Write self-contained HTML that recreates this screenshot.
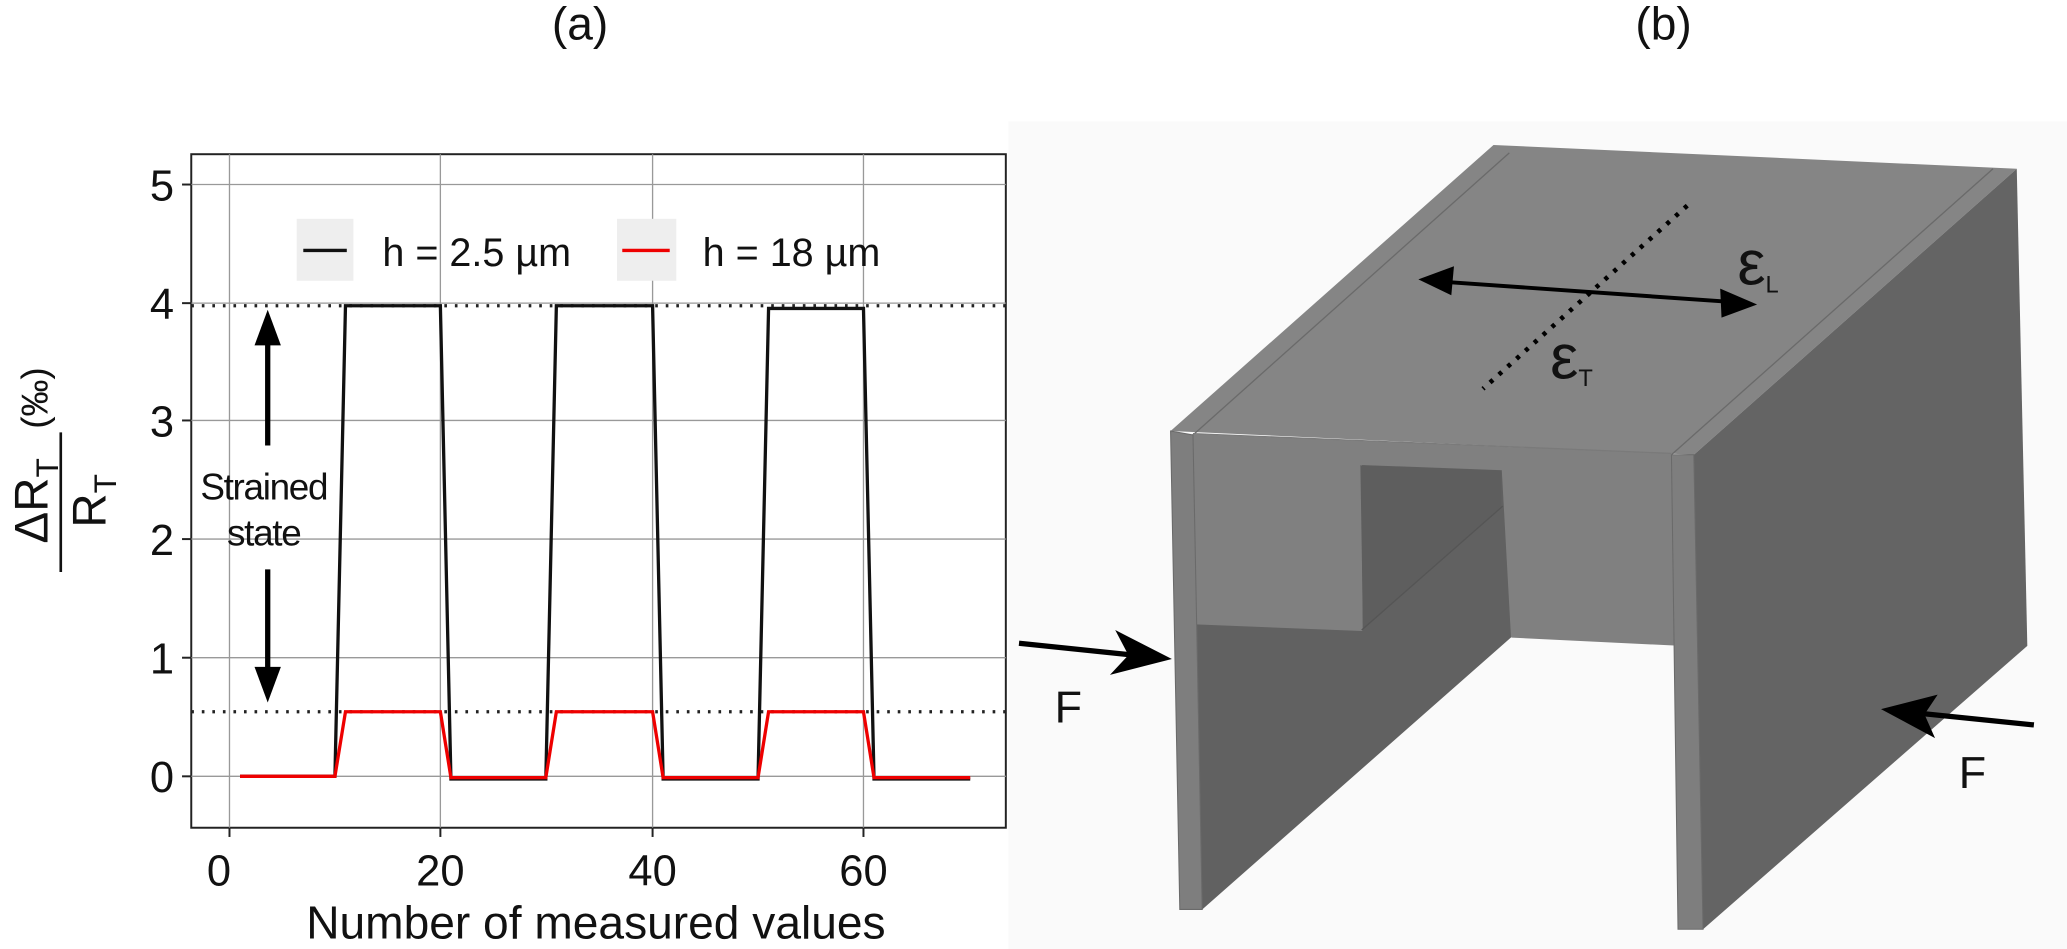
<!DOCTYPE html>
<html><head><meta charset="utf-8"><style>
html,body{margin:0;padding:0;background:#fff;}
svg{display:block;}
text{font-family:"Liberation Sans",sans-serif;fill:#111;}
</style></head><body>
<svg width="2067" height="949" viewBox="0 0 1568 720" xmlns="http://www.w3.org/2000/svg">
<text x="440" y="30" font-size="35" text-anchor="middle">(a)</text>
<text x="1262" y="30" font-size="35" text-anchor="middle">(b)</text>

<rect x="145" y="117" width="618" height="511" fill="#fff" stroke="#222" stroke-width="1.5"/>
<g stroke="#999" stroke-width="1">
<line x1="145" y1="589" x2="763" y2="589"/><line x1="145" y1="499" x2="763" y2="499"/>
<line x1="145" y1="409" x2="763" y2="409"/><line x1="145" y1="319" x2="763" y2="319"/>
<line x1="145" y1="230" x2="763" y2="230"/><line x1="145" y1="140" x2="763" y2="140"/>
<line x1="174" y1="117" x2="174" y2="628"/><line x1="334" y1="117" x2="334" y2="628"/>
<line x1="495" y1="117" x2="495" y2="628"/><line x1="655" y1="117" x2="655" y2="628"/>
</g>
<g stroke="#222" stroke-width="1.5">
<line x1="138" y1="589" x2="145" y2="589"/><line x1="138" y1="499" x2="145" y2="499"/><line x1="138" y1="409" x2="145" y2="409"/><line x1="138" y1="319" x2="145" y2="319"/><line x1="138" y1="230" x2="145" y2="230"/><line x1="138" y1="140" x2="145" y2="140"/>
<line x1="174" y1="628" x2="174" y2="635"/><line x1="334" y1="628" x2="334" y2="635"/><line x1="495" y1="628" x2="495" y2="635"/><line x1="655" y1="628" x2="655" y2="635"/>
</g>
<g font-size="33" text-anchor="end">
<text x="132" y="601">0</text><text x="132" y="511">1</text><text x="132" y="421">2</text><text x="132" y="331">3</text><text x="132" y="242">4</text><text x="132" y="152">5</text>
</g>
<g font-size="33" text-anchor="middle">
<text x="166" y="672">0</text><text x="334" y="672">20</text><text x="495" y="672">40</text><text x="655" y="672">60</text>
</g>
<text x="452" y="712" font-size="35" text-anchor="middle">Number of measured values</text>
<g stroke="#222" stroke-width="2.5" stroke-dasharray="2,6">
<line x1="145" y1="232" x2="763" y2="232"/><line x1="145" y1="540" x2="763" y2="540"/>
</g>
<polyline fill="none" stroke="#111" stroke-width="2.5" points="182,589 254,589 262,232 334,232 342,591 414,591 422,232 495,232 503,591 575,591 583,234 655,234 663,591 736,591"/>
<polyline fill="none" stroke="#e00" stroke-width="2.5" points="182,589 254,589 262,540 334,540 342,590 414,590 422,540 495,540 503,590 575,590 583,540 655,540 663,590 736,590"/>
<rect x="225" y="166" width="43" height="47" fill="#eee"/>
<line x1="230" y1="190" x2="263" y2="190" stroke="#111" stroke-width="2.5"/>
<text x="290" y="202" font-size="30">h = 2.5 µm</text>
<rect x="468" y="166" width="45" height="47" fill="#eee"/>
<line x1="472" y1="190" x2="508" y2="190" stroke="#e00" stroke-width="2.5"/>
<text x="533" y="202" font-size="30">h = 18 µm</text>
<line x1="203" y1="338" x2="203" y2="255" stroke="#000" stroke-width="4"/>
<polygon points="203,235 193,262 213,262" fill="#000"/>
<line x1="203" y1="432" x2="203" y2="512" stroke="#000" stroke-width="4"/>
<polygon points="203,533 193,506 213,506" fill="#000"/>
<text x="200" y="379" font-size="28" text-anchor="middle" letter-spacing="-1">Strained</text>
<text x="200" y="414" font-size="28" text-anchor="middle" letter-spacing="-1">state</text>
<g transform="translate(40,372) rotate(-90)">
<text x="-8" y="-4" font-size="36" text-anchor="middle">ΔR<tspan font-size="24" dy="8">T</tspan></text>
<line x1="-62" y1="6" x2="44" y2="6" stroke="#111" stroke-width="2"/>
<text x="-8" y="40" font-size="36" text-anchor="middle">R<tspan font-size="24" dy="8">T</tspan></text>
<text x="70" y="-4" font-size="28" text-anchor="middle">(‰)</text>
</g>

<rect x="765" y="92" width="803" height="628" fill="#fafafa"/>
<polygon points="907,473 1033,478 1033,352 1140,356 1147,483 912,690" fill="#616161"/>
<polygon points="888,327 1133,110 1530,128 1285,345" fill="#858585"/>
<line x1="905" y1="330" x2="1145" y2="116" stroke="#6a6a6a"/>
<line x1="1268" y1="345" x2="1512" y2="128" stroke="#6a6a6a"/>
<polygon points="1285,345 1530,128 1538,490 1292,705" fill="#646464"/>
<polygon points="905,330 1268,345 1270,489 1147,483 1140,356 1032,352 1033,478 907,473" fill="#808080" stroke="#808080" stroke-width="1.5" stroke-linejoin="round"/>
<line x1="905" y1="329" x2="1268" y2="344" stroke="#7a7a7a" stroke-width="1"/>
<polygon points="1032,353 1139,357 1139,384 1034,477" fill="#5e5e5e"/>
<line x1="1033" y1="478" x2="1140" y2="384" stroke="#555"/>
<polygon points="1268,345 1285,345 1292,705 1273,705" fill="#7e7e7e" stroke="#6a6a6a" stroke-width="0.8"/>
<polygon points="888,327 905,330 912,690 895,690" fill="#7e7e7e" stroke="#6a6a6a" stroke-width="0.8"/>
<line x1="773" y1="488" x2="860" y2="497" stroke="#000" stroke-width="4"/>
<polygon points="889,500 846,478 856,497 842,512" fill="#000"/>
<text x="800" y="548" font-size="34">F</text>
<line x1="1543" y1="550" x2="1455" y2="541" stroke="#000" stroke-width="4"/>
<polygon points="1427,538 1470,527 1460,542 1468,560" fill="#000"/>
<text x="1486" y="598" font-size="34">F</text>
<line x1="1098" y1="214" x2="1312" y2="229" stroke="#000" stroke-width="3"/>
<polygon points="1076,212 1103,202 1101,224" fill="#000"/>
<polygon points="1333,231 1305,219 1306,241" fill="#000"/>
<line x1="1280" y1="156" x2="1125" y2="295" stroke="#000" stroke-width="3.5" stroke-dasharray="3,6"/>
<text x="1318" y="216" font-size="48">ε<tspan font-size="18" dy="6">L</tspan></text>
<text x="1176" y="287" font-size="48">ε<tspan font-size="18" dy="6">T</tspan></text>
</svg>
</body></html>
